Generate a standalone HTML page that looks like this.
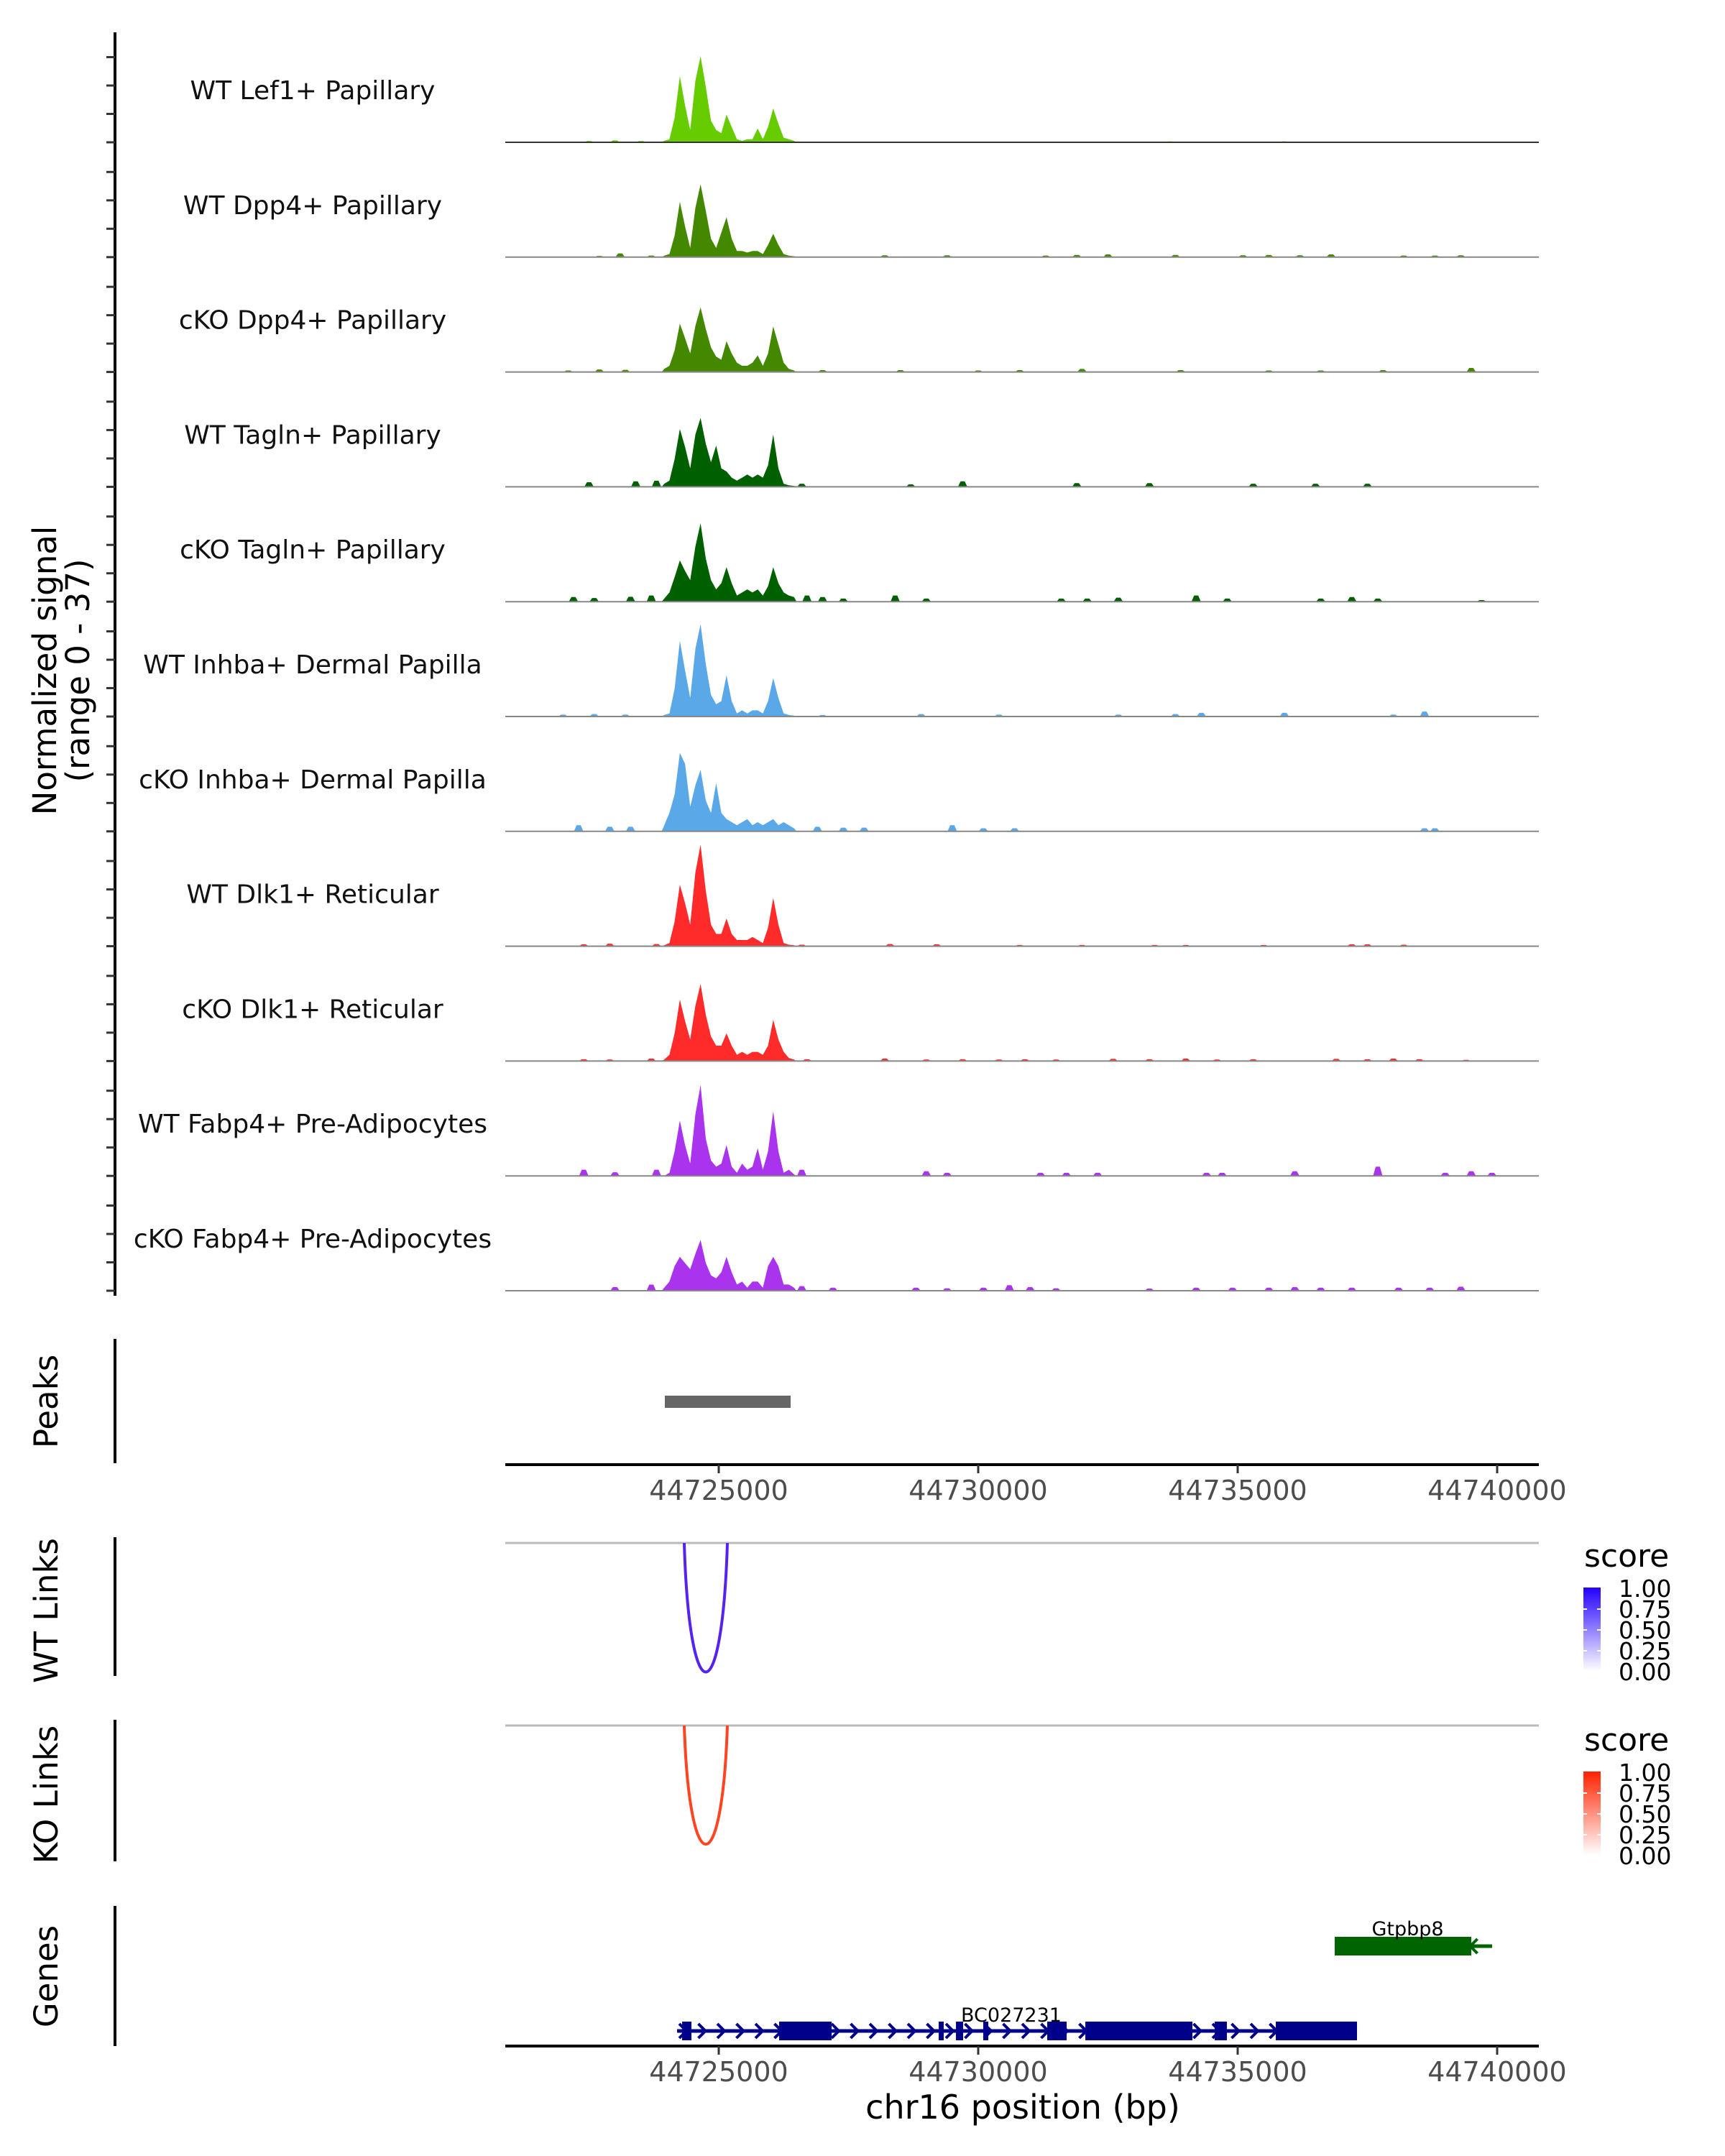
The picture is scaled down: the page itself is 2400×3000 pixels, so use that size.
<!DOCTYPE html>
<html><head><meta charset="utf-8"><style>
html,body{margin:0;padding:0;background:#fff;}
svg{display:block;font-family:"DejaVu Sans","Liberation Sans",sans-serif;}
</style></head><body>
<svg id="chart" width="2400" height="3000" viewBox="0 0 2400 3000" xmlns="http://www.w3.org/2000/svg">
<g id="tracks"></g>
<g id="extra"></g>
</svg>
<script>
// ---- data ----
const trackNames = ["WT Lef1+ Papillary","WT Dpp4+ Papillary","cKO Dpp4+ Papillary","WT Tagln+ Papillary","cKO Tagln+ Papillary","WT Inhba+ Dermal Papilla","cKO Inhba+ Dermal Papilla","WT Dlk1+ Reticular","cKO Dlk1+ Reticular","WT Fabp4+ Pre-Adipocytes","cKO Fabp4+ Pre-Adipocytes"];
const trackColors = ["#66cc00","#448800","#448800","#006000","#006000","#5aa8e8","#5aa8e8","#ff2a2a","#ff2a2a","#aa33ee","#aa33ee"];
const binStart = 44723900;
const binSize = 100;
const mainSignal = [
 [0.5,1,8,21.5,12,4,20,28,18,7,4,3,9,5,1,0.5,1,1,4.5,1,5,11,6,1.5,1,0.5],
 [0.5,1,7,18,10,3,16,23.7,15,6,3,8,13,6,2,2,1.5,2,2,1,4,7.6,4,1,0.5,0.3],
 [1,2,7,15.7,11,6,15,21,14,8,5,4,10,6,3,2,2,3,5.4,2,6,14.8,9,3,1,0.5],
 [1,2,9,18.8,13,6,17,22.4,14,8,13.4,6,5,3,2,3,4,3,4,3,7,17,6,1,0.5,0.3],
 [1,3,8,13.4,10,7,18,25.5,14,7,4,6,11.2,6,2,3,4,3,4,2,5,11.2,6,3,2,1.5],
 [0.5,1,9,24.6,15,6,22,30,17,7,4,5,13.4,5,1,2,1,2,2,1,5,12.5,6,1,0.5,0.3],
 [2,6,12,25.5,22,8,15,20,10,6,15.7,6,4,3,2,3,4,2,3,2,3,4,2,3,2,1],
 [0.3,1,8,20,14,7,24,33,18,7,4,4,9,4,2,2,2,3,2,1,6,15.7,7,1,0.5,0.3],
 [0.5,2,9,20,13,7,18,25,15,8,5,5,9,5,2,3,2,3,3,2,5,13.4,7,3,1,0.5],
 [0,1,8,18,10,4,20,29.5,12,5,3,4,10,3,1,4,2,3,9,2,8,21,8,1,2,0.5],
 [1,3,8,11,9,7,12,16.5,9,5,4,6,11,6,2,3,1,3,3,1,8,11,8,2,2,1]
];
const blips = [
 [[44722500,0.4],[44723000,0.6],[44723500,0.4],[44733700,0.3],[44735900,0.3]],
 [[44722700,0.4],[44723100,1.2],[44723700,0.5],[44728200,0.6],[44729400,0.6],[44731300,0.5],[44731900,0.7],[44732500,0.9],[44733800,0.7],[44735100,0.6],[44735600,0.7],[44736200,0.6],[44736800,0.9],[44738200,0.5],[44738800,0.5],[44739300,0.6]],
 [[44722100,0.5],[44722700,0.8],[44723200,0.7],[44727000,0.6],[44728500,0.6],[44730000,0.5],[44730800,0.6],[44732000,1.0],[44733900,0.6],[44735600,0.5],[44736600,0.5],[44737800,0.6],[44739500,1.3]],
 [[44722500,1.5],[44723400,1.8],[44723800,2],[44726600,1],[44728700,0.8],[44729700,1.8],[44731900,1.2],[44733300,1.2],[44735300,1],[44736500,1],[44737500,1]],
 [[44722200,1.5],[44722600,1.2],[44723300,1.6],[44723700,2],[44726700,2],[44727000,1.5],[44727400,1],[44728400,2],[44729000,1],[44731600,1],[44732100,1],[44732700,1.3],[44734200,2],[44734800,1],[44736600,1],[44737200,1.5],[44737700,1],[44739700,0.5]],
 [[44722000,0.6],[44722600,0.8],[44723200,0.6],[44727000,0.5],[44728900,0.8],[44730400,0.6],[44732700,0.6],[44733800,0.8],[44734300,1.2],[44735900,1.2],[44738000,0.6],[44738600,1.6]],
 [[44722300,2],[44722900,1.5],[44723300,1.5],[44726900,1.5],[44727400,1.2],[44727800,1.2],[44729500,2],[44730100,1],[44730700,1],[44738600,1],[44738800,1]],
 [[44722400,0.6],[44722900,0.8],[44723800,0.7],[44726600,0.5],[44728300,0.7],[44729200,0.6],[44730800,0.4],[44732000,0.4],[44733400,0.4],[44734000,0.4],[44735500,0.4],[44737200,0.6],[44737500,0.6],[44738200,0.5]],
 [[44722400,0.6],[44722900,0.5],[44723700,0.8],[44726700,0.6],[44728200,0.8],[44729000,0.5],[44729700,0.6],[44730400,0.5],[44730900,0.6],[44731500,0.5],[44732600,0.7],[44733300,0.6],[44734000,0.8],[44734600,0.5],[44735300,0.6],[44736900,0.7],[44737500,0.6],[44738000,0.8],[44738500,0.6],[44739400,0.4]],
 [[44722400,2],[44723000,1.2],[44723800,2],[44726600,2],[44729000,1.5],[44729400,1],[44731200,1],[44731700,1],[44732300,1],[44734400,1],[44734700,1],[44736100,1.5],[44737700,3],[44739000,1],[44739500,1.5],[44739900,1]],
 [[44723000,1.2],[44723700,2],[44726600,1.5],[44727200,1],[44728800,1],[44729400,0.8],[44730100,1],[44730600,1.8],[44731000,1.2],[44731500,0.8],[44733300,0.7],[44734200,1],[44734900,1],[44735600,1],[44736100,1.2],[44736600,1],[44737200,1],[44738100,1],[44738700,1],[44739300,1.3]]
];
const xTicks = [44725000,44730000,44735000,44740000];
const peakRegions = [[44723961,44726385]];
const wtLinks = [[44724335,44725166,1.0]];
const koLinks = [[44724335,44725166,0.9]];
const legendLabels = ["1.00","0.75","0.50","0.25","0.00"];
const geneBC = {name:"BC027231", start:44724197, end:44737299, strand:1};
const geneBCExons = [[44724294,44724474],[44726163,44727175],[44729238,44729335],[44729571,44729709],[44730097,44730194],[44731330,44731704],[44732064,44734127],[44734557,44734792],[44735734,44737299]];
const geneGt = {name:"Gtpbp8", start:44736870, end:44739903, strand:-1};
const geneGtExons = [[44736870,44739501]];

// ---- scales ----
const NS="http://www.w3.org/2000/svg";
const xLeft=703, xRight=2141;
const x = bp => 1000 + (bp-44725000)*0.0722;
const pxPerUnit = 4.28;
const baseY = i => 198 + i*159.8;
function mk(tag, attrs, parent){const e=document.createElementNS(NS,tag);for(const k in attrs)e.setAttribute(k,attrs[k]);parent.appendChild(e);return e;}
const tracks=document.getElementById('tracks');
const extra=document.getElementById('extra');

let ax=mk('line',{x1:160,y1:45,x2:160,y2:1803,stroke:'#000','stroke-width':4},tracks);


for(let i=0;i<trackNames.length;i++){
  for(let t=0;t<4;t++){
    const yy=baseY(i)-t*39.5;
    const tk=mk('line',{x1:148,y1:yy,x2:160,y2:yy,stroke:'#333','stroke-width':3},tracks);
    
    
  }
}
let yt=mk('text',{x:0,y:0,'font-size':45,'text-anchor':'middle',transform:'translate(78,933) rotate(-90)'},tracks);


yt.textContent='Normalized signal';
let yt2=mk('text',{x:0,y:0,'font-size':45,'text-anchor':'middle',transform:'translate(124,933) rotate(-90)'},tracks);


yt2.textContent='(range 0 - 37)';

for(let i=0;i<trackNames.length;i++){
  const by=baseY(i);
  const g=mk('g',{},tracks);
  
  
  const lbl=mk('text',{x:435,y:by-60,'font-size':36,'text-anchor':'middle',fill:'#111'},g);
  
  
  lbl.textContent=trackNames[i];
  const vals=mainSignal[i];
  let d='M'+x(binStart)+','+by;
  vals.forEach((v,j)=>{d+=' L'+x(binStart+j*binSize+binSize/2).toFixed(1)+','+(by-v*pxPerUnit).toFixed(1);});
  d+=' L'+x(binStart+vals.length*binSize)+','+by+' Z';
  const area=mk('path',{d:d,fill:trackColors[i]},g);
  
  
  blips[i].forEach(b=>{
    const x0=x(b[0]-90),x1=x(b[0]-40),x2=x(b[0]+40),x3=x(b[0]+90),h=by-b[1]*pxPerUnit;
    const bp=mk('path',{d:`M${x0},${by} L${x1},${h} L${x2},${h} L${x3},${by} Z`,fill:trackColors[i]},g);
    
    
  });
  const bl=mk('line',{x1:xLeft,y1:by,x2:xRight,y2:by,stroke:i==0?'#333':'#888','stroke-width':2},g);
  
  
}

function sideAxis(y1,y2,label,cy,name){
  const l=mk('line',{x1:160,y1:y1,x2:160,y2:y2,stroke:'#000','stroke-width':4},extra);
  
  
  const t=mk('text',{x:0,y:0,'font-size':45,'text-anchor':'middle',transform:`translate(80,${cy}) rotate(-90)`},extra);
  
  
  t.textContent=label;
}
function xAxis(y,name){
  const l=mk('line',{x1:xLeft,y1:y,x2:xRight,y2:y,stroke:'#000','stroke-width':4},extra);
  
  
  xTicks.forEach(v=>{
    const tk=mk('line',{x1:x(v),y1:y,x2:x(v),y2:y+12,stroke:'#333','stroke-width':3},extra);
    
    
    const tl=mk('text',{x:x(v),y:y+49,'font-size':38,'text-anchor':'middle',fill:'#4d4d4d'},extra);
    
    
    tl.textContent=v;
  });
}
sideAxis(1863,2036,'Peaks',1950,'peaks');
peakRegions.forEach(p=>{
  const r=mk('rect',{x:x(p[0]),y:1942,width:x(p[1])-x(p[0]),height:17,fill:'#666'},extra);
  
  
});
xAxis(2038,'peaks-x-axis');

function linksPanel(topY,bottomY,links,color,label,legendY,grad,name){
  sideAxis(topY-8,bottomY+5,label,(topY+bottomY)/2+4,name);
  const gl=mk('line',{x1:xLeft,y1:topY,x2:xRight,y2:topY,stroke:'#bbb','stroke-width':3},extra);
  
  
  links.forEach(k=>{
    const a=x(k[0]),b=x(k[1]),depth=(bottomY-topY)*k[2];
    const p=mk('path',{d:`M${a},${topY} C${a+(b-a)*0.12},${topY+depth*1.33} ${b-(b-a)*0.12},${topY+depth*1.33} ${b},${topY}`,fill:'none',stroke:color,'stroke-width':4},extra);
    
    
  });
  const lg=mk('g',{},extra);
  
  
  const st=mk('text',{x:2204,y:legendY,'font-size':44},lg);
  
  
  st.textContent='score';
  const cb=mk('rect',{x:2203,y:legendY+29,width:24,height:116,fill:`url(#${grad})`},lg);
  
  
  legendLabels.forEach((s,j)=>{
    const yy=legendY+30+j*29;
    if(j>0&&j<4){mk('line',{x1:2203,y1:yy,x2:2208,y2:yy,stroke:'#fff','stroke-width':2},lg);mk('line',{x1:2222,y1:yy,x2:2227,y2:yy,stroke:'#fff','stroke-width':2},lg);}
    const t=mk('text',{x:2252,y:yy+12,'font-size':33},lg);
    
    
    t.textContent=s;
  });
}
const defs=mk('defs',{},document.getElementById('chart'));
const g1=mk('linearGradient',{id:'gWT',x1:0,y1:1,x2:0,y2:0},defs);
mk('stop',{offset:0,'stop-color':'#ffffff'},g1);mk('stop',{offset:1,'stop-color':'#2200ff'},g1);
const g2=mk('linearGradient',{id:'gKO',x1:0,y1:1,x2:0,y2:0},defs);
mk('stop',{offset:0,'stop-color':'#ffffff'},g2);mk('stop',{offset:1,'stop-color':'#ff2200'},g2);
linksPanel(2147,2327,wtLinks,'#5522ee','WT Links',2180,'gWT','wt-links');
linksPanel(2401,2585,koLinks,'#ff4422','KO Links',2436,'gKO','ko-links');

sideAxis(2652,2847,'Genes',2750,'genes');
function drawGene(gene,exons,yy,color,labelY,name){
  const g=mk('g',{},extra);
  
  
  mk('line',{x1:x(gene.start),y1:yy,x2:x(gene.end),y2:yy,stroke:color,'stroke-width':5},g);
  const s=x(gene.start),e=x(gene.end);
  for(let cx=s+8;cx<e-4;cx+=26.5){
    const dir=gene.strand;
    mk('path',{d:`M${cx-5*dir},${yy-10} L${cx+5*dir},${yy} L${cx-5*dir},${yy+10}`,fill:'none',stroke:color,'stroke-width':4},g);
  }
  exons.forEach(ex=>{
    const r=mk('rect',{x:x(ex[0]),y:yy-13,width:x(ex[1])-x(ex[0]),height:26,fill:color},g);
    
    
  });
  const t=mk('text',{x:(x(gene.start)+x(gene.end))/2-8,y:labelY,'font-size':27,'text-anchor':'middle'},g);
  
  
  t.textContent=gene.name;
}
drawGene(geneGt,geneGtExons,2708,'#006400',2693,'gene-gtpbp8');
drawGene(geneBC,geneBCExons,2826,'#00008b',2813,'gene-bc027231');
xAxis(2847,'genes-x-axis');
const xt=mk('text',{x:1423,y:2948,'font-size':46,'text-anchor':'middle'},extra);


xt.textContent='chr16 position (bp)';
</script>
</body></html>
